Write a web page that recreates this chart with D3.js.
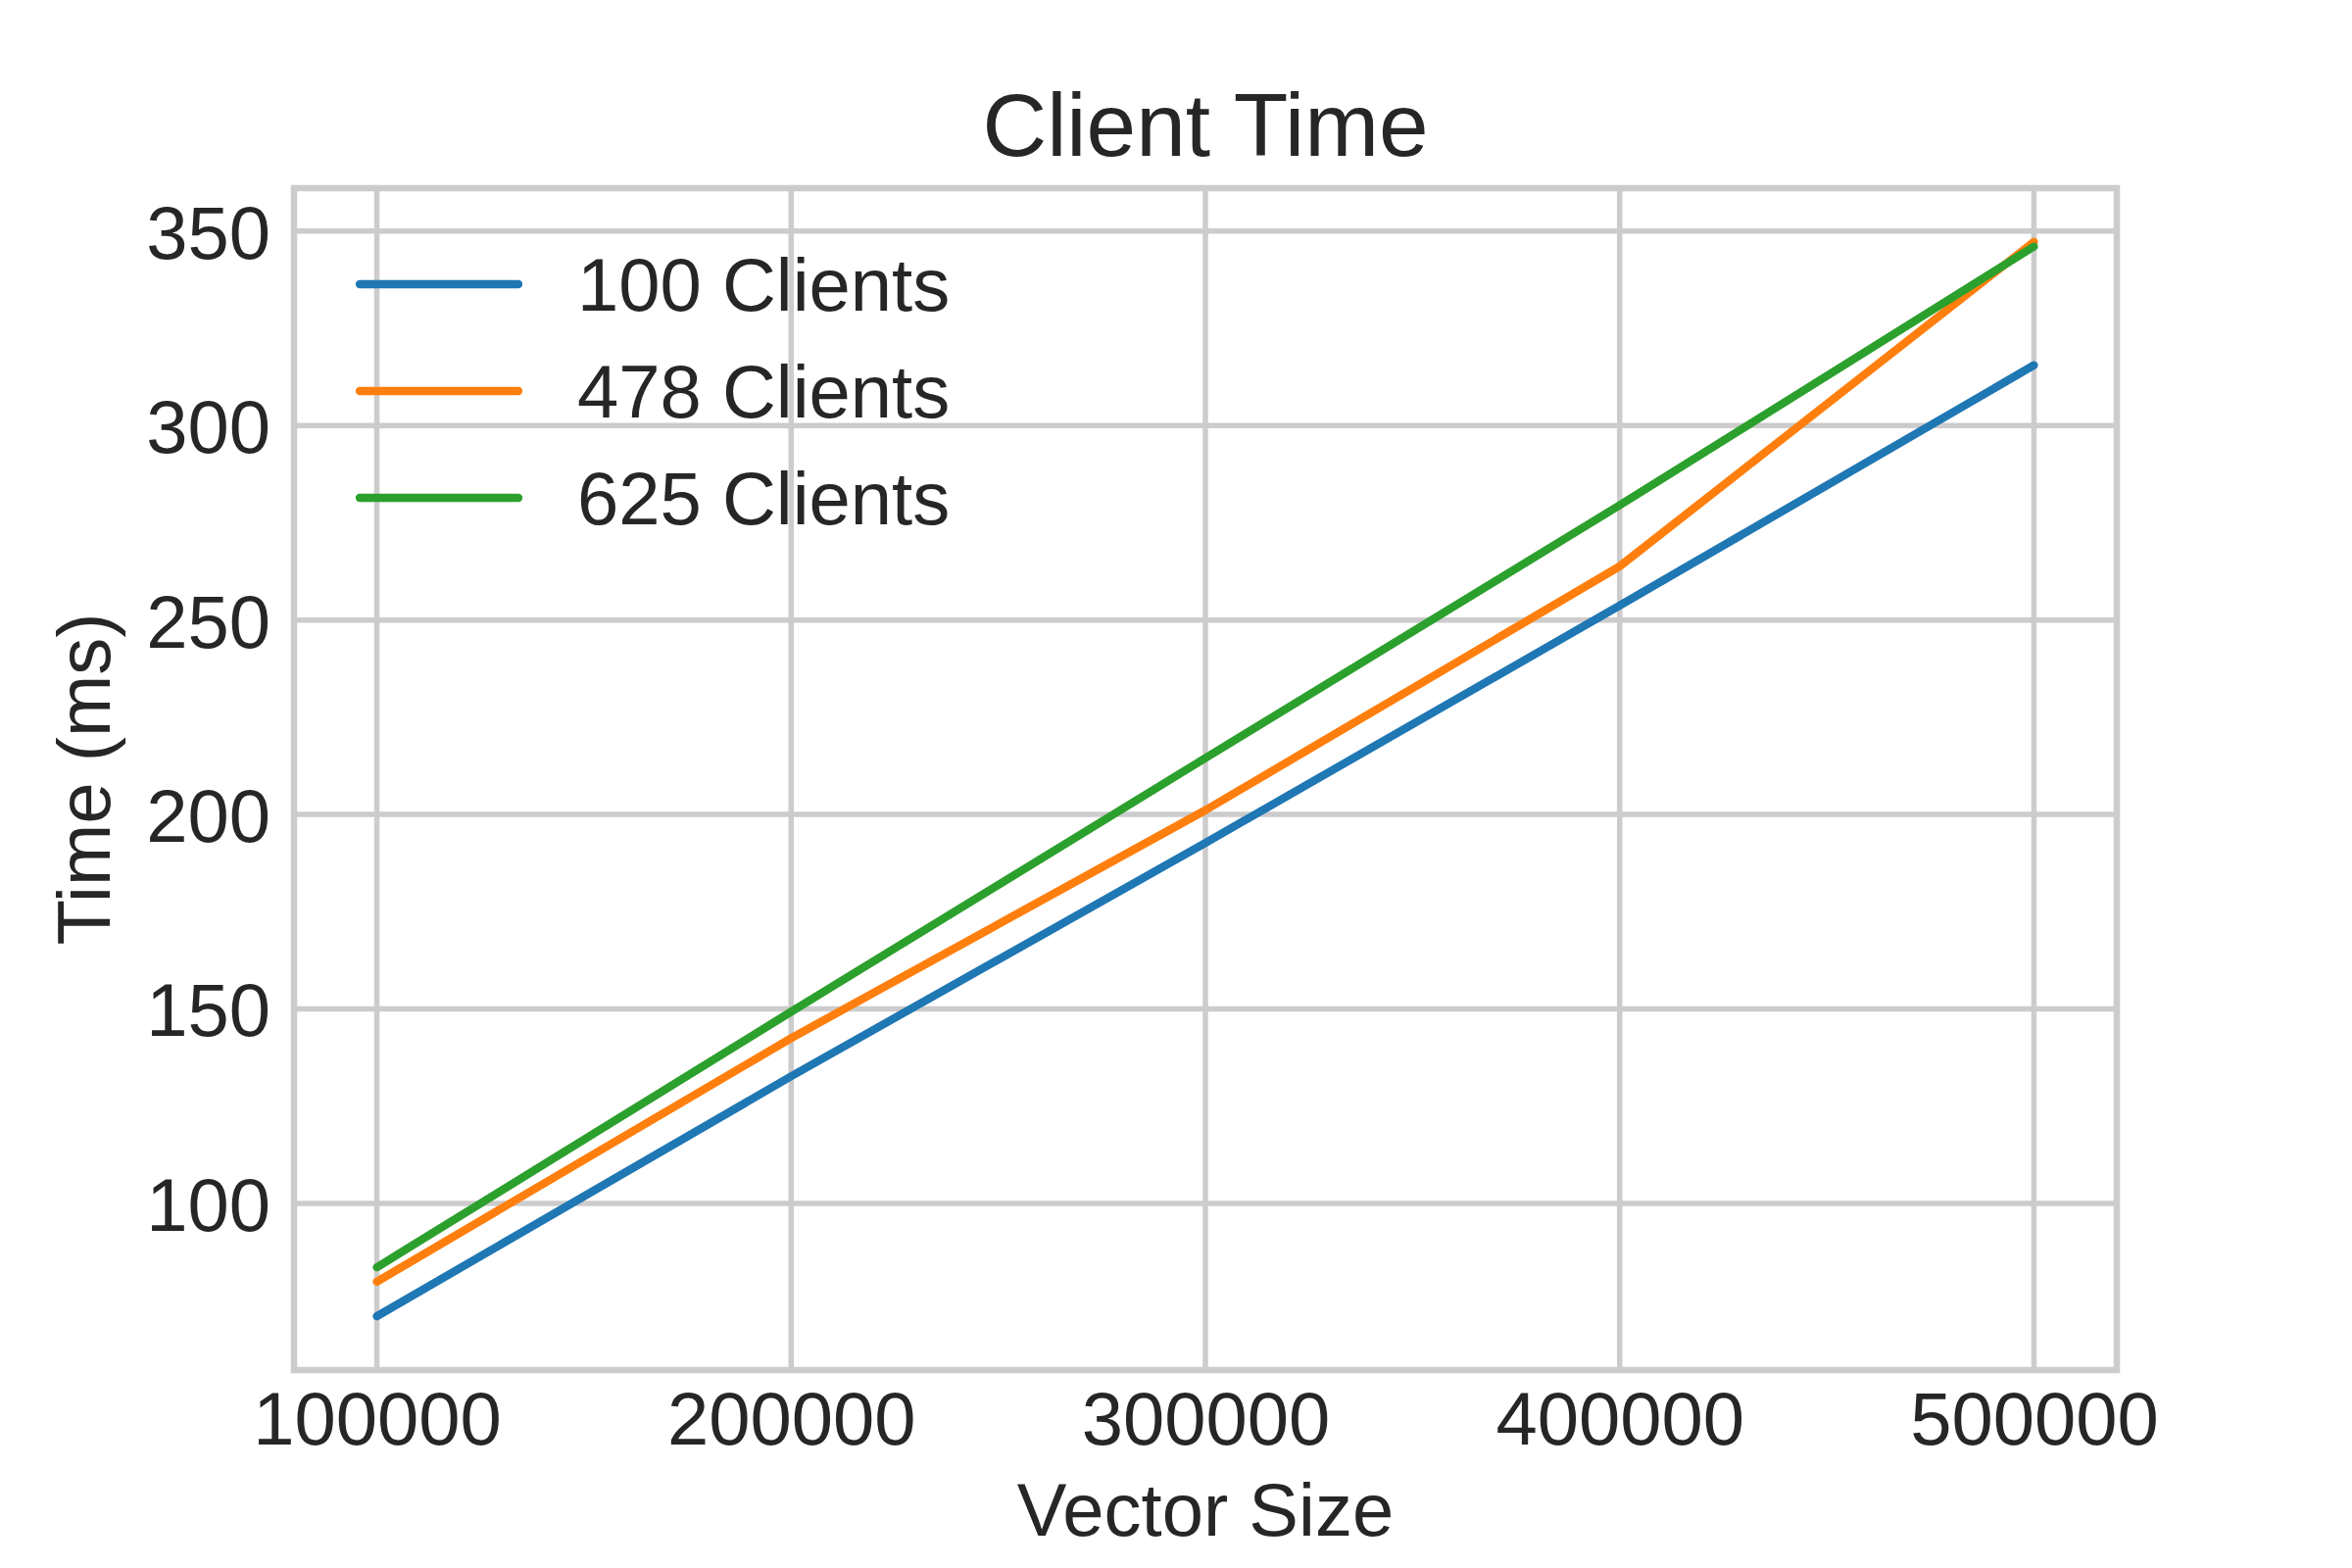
<!DOCTYPE html>
<html>
<head>
<meta charset="utf-8">
<script src="https://cdn.jsdelivr.net/npm/d3@7"></script>
<style>
  html, body { margin: 0; padding: 0; background: #ffffff; }
  svg text { font-family: Arial, "Liberation Sans", sans-serif; fill: #262626; }
</style>
</head>
<body>
<div id="chart"></div>
<script>
// data
const vectorSizes = [100000, 200000, 300000, 400000, 500000];
const clients100 = [71.0, 132.7, 192.7, 253.7, 315.5];
const clients478 = [79.9, 142.5, 201.1, 263.8, 347.2];
const clients625 = [83.6, 149.3, 214.5, 279.5, 346.0];
const seriesNames = ["100 Clients", "478 Clients", "625 Clients"];
const seriesColors = ["#1f77b4", "#ff7f0e", "#2ca02c"];
const xTicks = [100000, 200000, 300000, 400000, 500000];
const yTicks = [100, 150, 200, 250, 300, 350];

const series = [clients100, clients478, clients625].map((vals, i) => ({
    name: seriesNames[i],
    color: seriesColors[i],
    points: vals.map((v, j) => ({ x: vectorSizes[j], y: v }))
}));

const W = 2400, H = 1600;
const margin = { top: 192, right: 240, bottom: 202, left: 300 };
const width = W - margin.left - margin.right;
const height = H - margin.top - margin.bottom;

const svg = d3.select("#chart")
    .append("svg")
    .attr("width", W)
    .attr("height", H);

// matplotlib style 5% padding on the data range
const xExt = d3.extent(vectorSizes);
const xPad = (xExt[1] - xExt[0]) * 0.05;
const allY = [].concat(clients100, clients478, clients625);
const yExt = d3.extent(allY);
const yPad = (yExt[1] - yExt[0]) * 0.05;

const x = d3.scaleLinear()
    .domain([xExt[0] - xPad, xExt[1] + xPad])
    .range([0, width]);

const y = d3.scaleLinear()
    .domain([yExt[0] - yPad, yExt[1] + yPad])
    .range([height, 0]);

const g = svg.append("g")
    .attr("transform", `translate(${margin.left},${margin.top})`);

// grid
g.append("g")
    .selectAll("line")
    .data(xTicks)
    .enter().append("line")
    .attr("x1", d => x(d)).attr("x2", d => x(d))
    .attr("y1", 0).attr("y2", height)
    .attr("stroke", "#cccccc")
    .attr("stroke-width", 5.5);

g.append("g")
    .selectAll("line")
    .data(yTicks)
    .enter().append("line")
    .attr("x1", 0).attr("x2", width)
    .attr("y1", d => y(d)).attr("y2", d => y(d))
    .attr("stroke", "#cccccc")
    .attr("stroke-width", 5.5);

// axes (labels only, no tick marks)
const xAxis = g.append("g")
    .attr("transform", `translate(0,${height})`)
    .call(d3.axisBottom(x).tickValues(xTicks).tickFormat(d3.format("d")).tickSize(0).tickPadding(0));
xAxis.select(".domain").remove();
xAxis.selectAll("text")
    .attr("dy", null)
    .attr("y", 76)
    .style("font-size", "76px")
    .style("font-family", "Arial, 'Liberation Sans', sans-serif")
    .attr("fill", "#262626");

const yAxis = g.append("g")
    .call(d3.axisLeft(y).tickValues(yTicks).tickFormat(d3.format("d")).tickSize(0).tickPadding(0));
yAxis.select(".domain").remove();
yAxis.selectAll("text")
    .attr("x", -24)
    .attr("dy", "0.36em")
    .style("font-size", "76px")
    .style("font-family", "Arial, 'Liberation Sans', sans-serif")
    .attr("fill", "#262626");

// lines
const line = d3.line()
    .x(d => x(d.x))
    .y(d => y(d.y));

g.selectAll(".series")
    .data(series)
    .enter().append("path")
    .attr("class", "series")
    .attr("d", d => line(d.points))
    .attr("fill", "none")
    .attr("stroke", d => d.color)
    .attr("stroke-width", 8.3)
    .attr("stroke-linecap", "round")
    .attr("stroke-linejoin", "round");

// frame
g.append("rect")
    .attr("x", 0).attr("y", 0)
    .attr("width", width).attr("height", height)
    .attr("fill", "none")
    .attr("stroke", "#cccccc")
    .attr("stroke-width", 6.5);

// legend
const legend = g.append("g")
    .attr("transform", "translate(67,98)");

const item = legend.selectAll(".item")
    .data(series)
    .enter().append("g")
    .attr("class", "item")
    .attr("transform", (d, i) => `translate(0,${i * 109})`);

item.append("line")
    .attr("x1", 0).attr("x2", 162)
    .attr("y1", 0).attr("y2", 0)
    .attr("stroke", d => d.color)
    .attr("stroke-width", 8.3)
    .attr("stroke-linecap", "round");

item.append("text")
    .attr("x", 222)
    .attr("y", 27)
    .style("font-size", "76px")
    .text(d => d.name);

// title and axis labels
svg.append("text")
    .attr("x", margin.left + width / 2)
    .attr("y", 159)
    .attr("text-anchor", "middle")
    .style("font-size", "91px")
    .text("Client Time");

svg.append("text")
    .attr("x", margin.left + width / 2)
    .attr("y", 1567)
    .attr("text-anchor", "middle")
    .style("font-size", "76px")
    .text("Vector Size");

svg.append("text")
    .attr("transform", `translate(112,${margin.top + height / 2}) rotate(-90)`)
    .attr("text-anchor", "middle")
    .style("font-size", "76px")
    .text("Time (ms)");
</script>
</body>
</html>
